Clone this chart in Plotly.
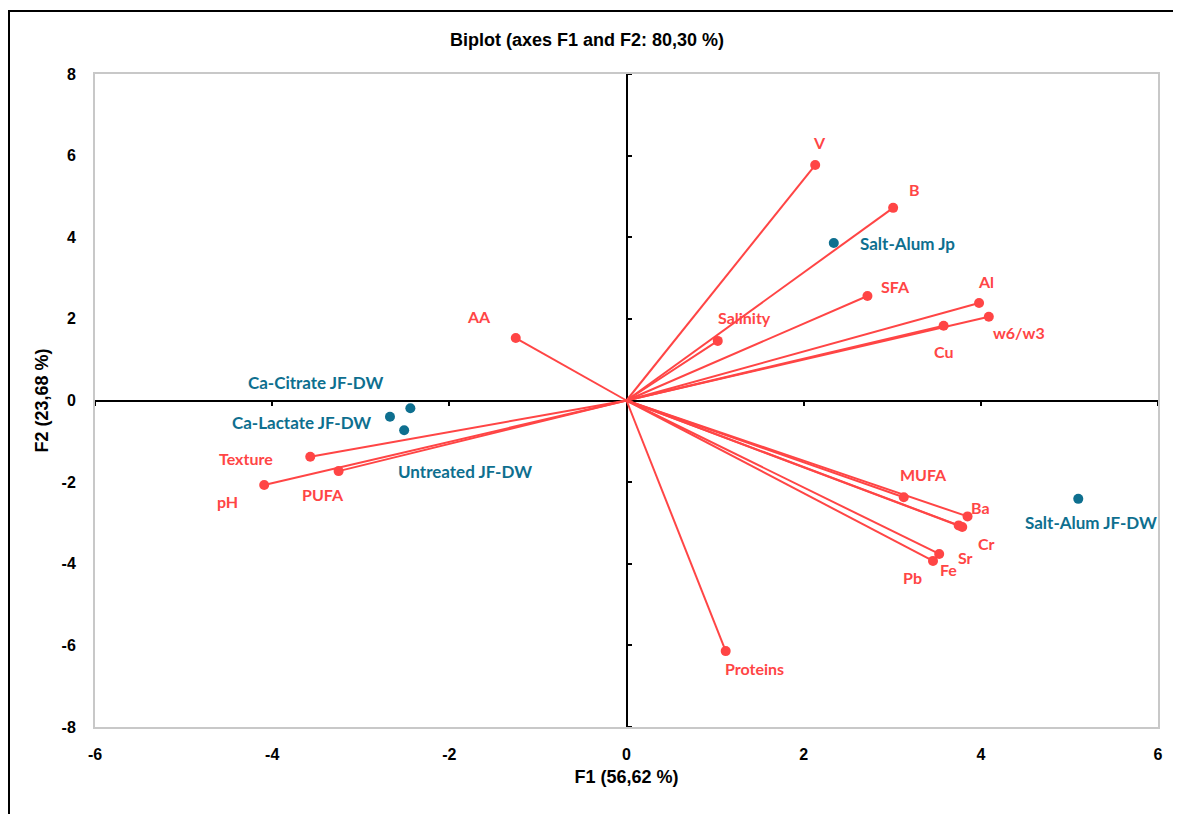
import plotly.graph_objects as go

# Variables (red vectors)
var_names = ["V", "B", "SFA", "Al", "w6/w3", "Cu", "Salinity", "AA", "Texture", "PUFA", "pH",
             "MUFA", "Ba", "Cr", "Sr", "Fe", "Pb", "Proteins"]
var_f1 = [2.13, 3.01, 2.72, 3.98, 4.09, 3.58, 1.03, -1.25, -3.57, -3.25, -4.09,
          3.13, 3.85, 3.79, 3.75, 3.53, 3.46, 1.12]
var_f2 = [5.77, 4.72, 2.56, 2.39, 2.05, 1.83, 1.46, 1.53, -1.38, -1.73, -2.07,
          -2.37, -2.84, -3.10, -3.06, -3.76, -3.93, -6.14]

# Observations (blue points)
obs_names = ["Salt-Alum Jp", "Salt-Alum JF-DW", "Ca-Citrate JF-DW", "Ca-Lactate JF-DW", "Untreated JF-DW"]
obs_f1 = [2.34, 5.10, -2.44, -2.67, -2.51]
obs_f2 = [3.86, -2.41, -0.19, -0.40, -0.73]

x_ticks = [-6, -4, -2, 0, 2, 4, 6]
y_ticks = [-8, -6, -4, -2, 0, 2, 4, 6, 8]

# label offsets in pixels (dx right, dy down) - styling only
var_label_off = {"V": (4, -23), "B": (21, -18), "SFA": (28, -10), "Al": (7, -21), "w6/w3": (30, 16),
                 "Cu": (0, 26), "Salinity": (27, -23), "AA": (-37, -22), "Texture": (-64, 2),
                 "PUFA": (-16, 23), "pH": (-37, 17), "MUFA": (20, -23), "Ba": (13, -9),
                 "Cr": (24, 16), "Sr": (7, 32), "Fe": (9, 16), "Pb": (-21, 17), "Proteins": (29, 17)}
obs_label_off = {"Salt-Alum Jp": (74, 1), "Salt-Alum JF-DW": (13, 24), "Ca-Citrate JF-DW": (-94, -26),
                 "Ca-Lactate JF-DW": (-88, 6), "Untreated JF-DW": (61, 41)}

RED = "#FF4545"
BLUE = "#0E6F8F"
LABEL_FONT = "Lato"

W, H = 1173, 806
ML, MT, MR, MB = 87, 66, 23, 87
PW, PH = W - ML - MR, H - MT - MB

fig = go.Figure()

# vector lines from origin
lx, ly = [], []
for a, b in zip(var_f1, var_f2):
    lx += [0, a, None]
    ly += [0, b, None]
fig.add_trace(go.Scatter(x=lx, y=ly, mode="lines", line=dict(color=RED, width=2),
                         hoverinfo="skip", showlegend=False))
fig.add_trace(go.Scatter(x=var_f1, y=var_f2, mode="markers", text=var_names,
                         marker=dict(color=RED, size=10), showlegend=False))
fig.add_trace(go.Scatter(x=obs_f1, y=obs_f2, mode="markers", text=obs_names,
                         marker=dict(color=BLUE, size=10), showlegend=False))

for n, a, b in zip(var_names, var_f1, var_f2):
    dx, dy = var_label_off[n]
    fig.add_annotation(x=a, y=b, text=n, showarrow=False, xshift=dx, yshift=-dy,
                       font=dict(family=LABEL_FONT, size=16, color=RED, weight="bold"))
for n, a, b in zip(obs_names, obs_f1, obs_f2):
    dx, dy = obs_label_off[n]
    fig.add_annotation(x=a, y=b, text=n, showarrow=False, xshift=dx, yshift=-dy,
                       font=dict(family=LABEL_FONT, size=17, color=BLUE, weight="bold"))

tick_font = dict(family="Liberation Sans", size=16, color="black", weight="bold")
title_font = dict(family="Liberation Sans", size=18, color="black")

fig.update_layout(
    width=W, height=H,
    margin=dict(l=ML, r=MR, t=MT, b=MB),
    plot_bgcolor="white", paper_bgcolor="white",
    title=dict(text="<b>Biplot (axes F1 and F2: 80,30 %)</b>", x=579 / W, xref="container", xanchor="center",
               y=1 - 32 / H, yref="container", yanchor="middle", font=title_font),
    xaxis=dict(range=[-6, 6], tickvals=x_ticks, ticktext=[str(v) for v in x_ticks],
               showgrid=False, zeroline=False, showline=True, mirror=True,
               linecolor="#C8C8C8", linewidth=2, ticks="", ticklabelstandoff=12,
               tickfont=tick_font,
               title=dict(text="<b>F1 (56,62 %)</b>", standoff=8, font=title_font)),
    yaxis=dict(range=[-8, 8], tickvals=y_ticks, ticktext=[str(v) for v in y_ticks],
               showgrid=False, zeroline=False, showline=True, mirror=True,
               linecolor="#C8C8C8", linewidth=2, ticks="", ticklabelstandoff=14,
               tickfont=tick_font,
               title=dict(text="<b>F2 (23,68 %)</b>", standoff=8, font=title_font)),
    xaxis2=dict(range=[-6, 6], overlaying="x", anchor="free", position=0.5, side="bottom",
                tickvals=x_ticks, showticklabels=False, showgrid=False, zeroline=False,
                showline=True, linecolor="black", linewidth=1.5, ticks="outside", ticklen=5,
                tickcolor="black", tickwidth=1.5, layer="below traces"),
    yaxis2=dict(range=[-8, 8], overlaying="y", anchor="free", position=0.5, side="right",
                tickvals=y_ticks, showticklabels=False, showgrid=False, zeroline=False,
                showline=True, linecolor="black", linewidth=1.5, ticks="outside", ticklen=5,
                tickcolor="black", tickwidth=1.5, layer="below traces"),
)

# dummy trace to show overlay axes
fig.add_trace(go.Scatter(x=[None], y=[None], xaxis="x2", yaxis="y2", showlegend=False, hoverinfo="skip"))

# outer frame (top and left edge of the original figure box)
fig.add_shape(type="rect", xref="paper", yref="paper",
              x0=(1 - ML) / PW, x1=1.2, y0=-0.3, y1=(PH + MT - 3) / PH,
              line=dict(color="black", width=2), layer="below")

fig.write_html("out.html")
